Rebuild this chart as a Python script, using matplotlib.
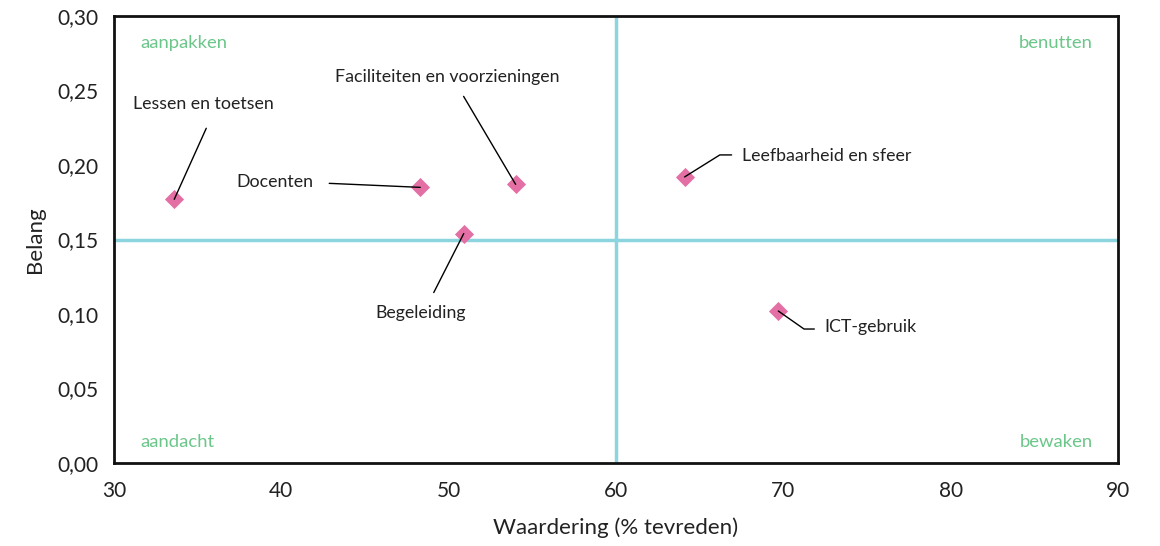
import numpy as np
import matplotlib
matplotlib.use("Agg")
import matplotlib.pyplot as plt
from matplotlib.ticker import FuncFormatter

plt.rcParams['font.family'] = ['Lato', 'DejaVu Sans']

# data
labels = ['Lessen en toetsen', 'Docenten', 'Faciliteiten en voorzieningen',
          'Begeleiding', 'Leefbaarheid en sfeer', 'ICT-gebruik']
waardering = [33.6, 48.3, 54.0, 50.9, 64.1, 69.7]
belang = [0.177, 0.185, 0.187, 0.154, 0.192, 0.102]
x_split = 60
y_split = 0.15

# plaatsing labels (offset pixels t.o.v. punt): tekst, begin lijn, uitlijning, verbinding
text_off = [(29, 95), (-145, 5), (-68, 107), (-43, -79), (57, 21), (46, -16)]
line_off = [(32, 71), (-91, 4), (-52, 88), (-30, -59), (47, 22), (36, -18)]
text_ha = ['center', 'center', 'center', 'center', 'left', 'left']
conn = [None, None, None, None, "angle,angleA=0,angleB=32,rad=0",
        "angle,angleA=0,angleB=-35,rad=0"]

pink = '#E46FA4'
cyan = '#8CD5DF'
green = '#6CC68A'
dark = '#222222'

fig = plt.figure(figsize=(11.6, 5.46), dpi=100)
ax = fig.add_axes([0.0983, 0.152, 0.8655, 0.8187])

ax.axvline(x_split, color=cyan, lw=2.5, zorder=1)
ax.axhline(y_split, color=cyan, lw=2.5, zorder=1)

ax.scatter(waardering, belang, marker='D', s=95, color=pink, zorder=3, linewidths=0)

for i in range(len(labels)):
    ax.annotate(labels[i], xy=(waardering[i], belang[i]), xytext=text_off[i],
                textcoords='offset pixels', ha=text_ha[i], va='center',
                fontsize=12.8, color=dark, zorder=4)
    cs = conn[i] if conn[i] else "arc3"
    ax.annotate('', xy=(waardering[i], belang[i]), xytext=line_off[i],
                textcoords='offset pixels',
                arrowprops=dict(arrowstyle='-', color='black', lw=1,
                                shrinkA=0, shrinkB=0, connectionstyle=cs),
                zorder=4)

# kwadrant teksten
ax.text(0.026, 0.94, 'aanpakken', transform=ax.transAxes, color=green, fontsize=13.3, va='center', ha='left')
ax.text(0.975, 0.94, 'benutten', transform=ax.transAxes, color=green, fontsize=13.3, va='center', ha='right')
ax.text(0.026, 0.047, 'aandacht', transform=ax.transAxes, color=green, fontsize=13.3, va='center', ha='left')
ax.text(0.975, 0.047, 'bewaken', transform=ax.transAxes, color=green, fontsize=13.3, va='center', ha='right')

ax.set_xlim(30, 90)
ax.set_ylim(0, 0.30)
ax.set_xticks(np.arange(30, 91, 10))
ax.set_yticks(np.arange(0, 0.31, 0.05))
ax.yaxis.set_major_formatter(FuncFormatter(lambda v, p: ('%.2f' % v).replace('.', ',')))
ax.tick_params(length=0, labelsize=15, labelcolor=dark)
ax.tick_params(axis='x', pad=13)
ax.tick_params(axis='y', pad=11)
for s in ax.spines.values():
    s.set_linewidth(2)
    s.set_color('#111111')

ax.set_xlabel('Waardering (% tevreden)', fontsize=16, color=dark, labelpad=12)
ax.set_ylabel('Belang', fontsize=16, color=dark, labelpad=9)

fig.savefig('out.png', dpi=100)
